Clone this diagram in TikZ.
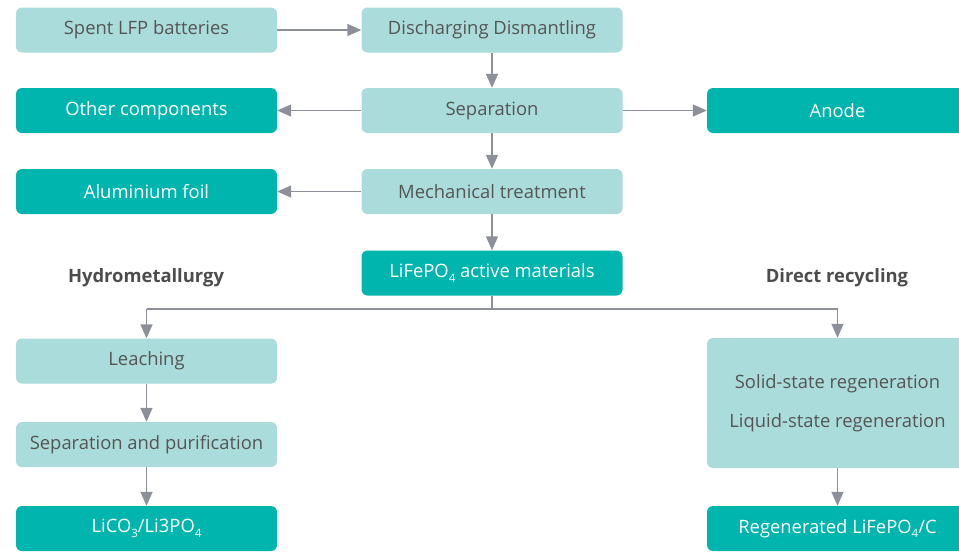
\documentclass[tikz,border=0pt]{standalone}
\usepackage{fontspec}
\setmainfont{Open Sans}
\usetikzlibrary{arrows.meta}
\definecolor{lightbox}{HTML}{AADCDB}
\definecolor{darkbox}{HTML}{00B5AD}
\definecolor{arrowgray}{HTML}{8D9099}
\definecolor{textgray}{HTML}{555555}
\newcommand{\chemsub}[1]{\raisebox{-0.5ex}{\fontsize{11.5}{11.5}\selectfont #1}}
\tikzset{>={Triangle[length=14pt,width=12pt]}}
\tikzstyle{light}=[fill=lightbox,text=textgray,rounded corners=6pt,minimum width=261pt,minimum height=45pt,inner sep=0pt,font=\fontsize{18.4}{21}\selectfont]
\tikzstyle{dark}=[fill=darkbox,text=white,rounded corners=6pt,minimum width=261pt,minimum height=45pt,inner sep=0pt,font=\fontsize{18.4}{21}\selectfont]
\tikzstyle{heading}=[text=textgray!90!black,font=\fontsize{18.4}{21}\selectfont\bfseries]
\tikzstyle{flow}=[->,draw=arrowgray,line width=1.5pt]
\tikzstyle{plain}=[-,draw=arrowgray,line width=1.5pt]
\pgfdeclarelayer{edgelayer}
\pgfdeclarelayer{nodelayer}
\pgfsetlayers{edgelayer,nodelayer,main}
\begin{document}
\begin{tikzpicture}[x=1pt,y=-1pt]
	\useasboundingbox (0,0) rectangle (959,552);
	\begin{pgfonlayer}{nodelayer}
		\node [style=light] (spent) at (146.5, 30) {Spent LFP batteries};
		\node [style=light] (disch) at (492, 30) {Discharging Dismantling};
		\node [style=dark] (other) at (146.5, 110.5) {Other components};
		\node [style=light] (sep) at (492, 110.5) {Separation};
		\node [style=dark] (anode) at (837.5, 110.5) {Anode};
		\node [style=dark] (alu) at (146.5, 191.5) {Aluminium foil};
		\node [style=light] (mech) at (492, 191.5) {Mechanical treatment};
		\node [style=dark] (lfp) at (492, 273) {LiFePO\chemsub{4} active materials};
		\node [style=heading] (hydro) at (146, 278) {Hydrometallurgy};
		\node [style=heading] (direct) at (837, 278) {Direct recycling};
		\node [style=light] (leach) at (146.5, 361) {Leaching};
		\node [style=light] (purif) at (146.5, 444.5) {Separation and purification};
		\node [style=dark] (lico) at (146.5, 528.5) {LiCO\chemsub{3}/Li3PO\chemsub{4}};
		\node [style=light, minimum height=130pt, align=center, font=\fontsize{18.4}{39}\selectfont] (regen) at (837.5, 403) {Solid-state regeneration\\Liquid-state regeneration};
		\node [style=dark] (newlfp) at (837.5, 528.5) {Regenerated LiFePO\chemsub{4}/C};
		\coordinate (split) at (492, 309);
		\coordinate (splitL) at (146.5, 309);
		\coordinate (splitR) at (837.5, 309);
	\end{pgfonlayer}
	\begin{pgfonlayer}{edgelayer}
		\draw [style=flow] (spent) to (disch);
		\draw [style=flow] (disch) to (sep);
		\draw [style=flow] (sep) to (other);
		\draw [style=flow] (sep) to (anode);
		\draw [style=flow] (sep) to (mech);
		\draw [style=flow] (mech) to (alu);
		\draw [style=flow] (mech) to (lfp);

		% split into the two recycling routes
		\draw [style=plain] (lfp) to (split);
		\draw [style=plain] (splitL) to (splitR);
		\draw [style=flow] (splitL) to (leach);
		\draw [style=flow] (splitR) to (regen);
		\draw [style=flow] (leach) to (purif);
		\draw [style=flow] (purif) to (lico);
		\draw [style=flow] (regen) to (newlfp);
	\end{pgfonlayer}
\end{tikzpicture}
\end{document}
